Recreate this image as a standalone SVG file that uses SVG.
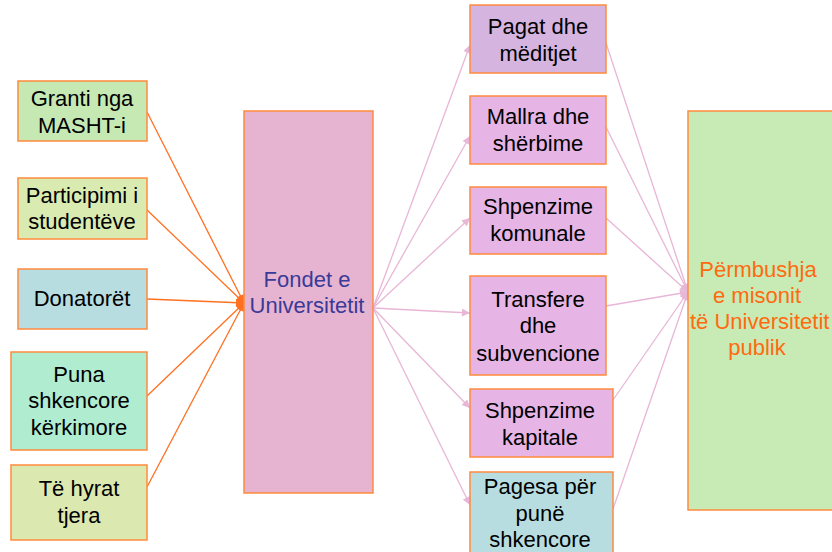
<svg xmlns="http://www.w3.org/2000/svg" width="832" height="552" viewBox="0 0 832 552">
<defs>
<style>
.box{stroke:#ff8a3d;stroke-width:1.5}
.t{font-family:"Liberation Sans",Arial,sans-serif;font-size:22px;fill:#000;text-anchor:middle}
.ct{fill:#3a3a98}
.rt{fill:#ff6a10}
.co{stroke:#ff7020;stroke-width:1.3;fill:none}
.cp{stroke:#e8b6d6;stroke-width:1.3;fill:none}
</style>
<marker id="ao" viewBox="0 0 10 10" refX="10" refY="5" markerWidth="10" markerHeight="8" markerUnits="userSpaceOnUse" orient="auto">
<path d="M0,0 L10,5 L0,10 z" fill="#ff7020"/>
</marker>
<marker id="ap" viewBox="0 0 10 10" refX="10" refY="5" markerWidth="9" markerHeight="8" markerUnits="userSpaceOnUse" orient="auto">
<path d="M0,0 L10,5 L0,10 z" fill="#e8b6d6"/>
</marker>
</defs>
<rect width="832" height="552" fill="#ffffff"/>
<g id="connectors">
<line class="co" x1="147" y1="112" x2="244" y2="303" marker-end="url(#ao)"/>
<line class="co" x1="147" y1="210" x2="244" y2="303" marker-end="url(#ao)"/>
<line class="co" x1="147" y1="299" x2="244" y2="303" marker-end="url(#ao)"/>
<line class="co" x1="147" y1="396" x2="244" y2="303" marker-end="url(#ao)"/>
<line class="co" x1="147" y1="487" x2="244" y2="303" marker-end="url(#ao)"/>
<line class="cp" x1="373" y1="308" x2="470" y2="45" marker-end="url(#ap)"/>
<line class="cp" x1="373" y1="308" x2="470" y2="136" marker-end="url(#ap)"/>
<line class="cp" x1="373" y1="308" x2="470" y2="218" marker-end="url(#ap)"/>
<line class="cp" x1="373" y1="308" x2="470" y2="313" marker-end="url(#ap)"/>
<line class="cp" x1="373" y1="308" x2="470" y2="408" marker-end="url(#ap)"/>
<line class="cp" x1="373" y1="308" x2="470" y2="505" marker-end="url(#ap)"/>
<line class="cp" x1="606" y1="43" x2="688" y2="292" marker-end="url(#ap)"/>
<line class="cp" x1="606" y1="127" x2="688" y2="292" marker-end="url(#ap)"/>
<line class="cp" x1="606" y1="218" x2="688" y2="292" marker-end="url(#ap)"/>
<line class="cp" x1="606" y1="306" x2="688" y2="292" marker-end="url(#ap)"/>
<line class="cp" x1="613" y1="400" x2="688" y2="292" marker-end="url(#ap)"/>
<line class="cp" x1="613" y1="509" x2="688" y2="292" marker-end="url(#ap)"/>
</g>
<g id="granti">
<rect class="box" x="18" y="81" width="129" height="60" fill="#c6e9b4"/>
<text class="t" x="82" y="106">Granti nga</text>
<text class="t" x="82" y="133">MASHT-i</text>
</g>
<g id="participimi">
<rect class="box" x="18" y="178" width="129" height="61" fill="#d9ebb0"/>
<text class="t" x="82" y="203">Participimi i</text>
<text class="t" x="82" y="229">studentëve</text>
</g>
<g id="donatoret">
<rect class="box" x="18" y="269" width="129" height="60" fill="#b8dde0"/>
<text class="t" x="82" y="306">Donatorët</text>
</g>
<g id="puna">
<rect class="box" x="11" y="352" width="136" height="98" fill="#b0ecd0"/>
<text class="t" x="79" y="382">Puna</text>
<text class="t" x="79" y="408">shkencore</text>
<text class="t" x="79" y="435">kërkimore</text>
</g>
<g id="hyrat">
<rect class="box" x="11" y="465" width="136" height="75" fill="#dbe9b0"/>
<text class="t" x="79" y="496">Të hyrat</text>
<text class="t" x="79" y="523">tjera</text>
</g>
<g id="fondet">
<rect class="box" x="244" y="111" width="129" height="382" fill="#e6b4d0"/>
<text class="t ct" x="307" y="287">Fondet e</text>
<text class="t ct" x="307" y="313">Universitetit</text>
</g>
<g id="pagat">
<rect class="box" x="470" y="5" width="136" height="68" fill="#d5b5e0"/>
<text class="t" x="538" y="34">Pagat dhe</text>
<text class="t" x="538" y="61">mëditjet</text>
</g>
<g id="mallra">
<rect class="box" x="470" y="96" width="136" height="68" fill="#e6b5e5"/>
<text class="t" x="538" y="124">Mallra dhe</text>
<text class="t" x="538" y="151">shërbime</text>
</g>
<g id="komunale">
<rect class="box" x="470" y="187" width="136" height="67" fill="#e6b5e5"/>
<text class="t" x="538" y="214">Shpenzime</text>
<text class="t" x="538" y="241">komunale</text>
</g>
<g id="transfere">
<rect class="box" x="470" y="276" width="136" height="99" fill="#e6b5e5"/>
<text class="t" x="538" y="307">Transfere</text>
<text class="t" x="538" y="333">dhe</text>
<text class="t" x="538" y="361">subvencione</text>
</g>
<g id="kapitale">
<rect class="box" x="470" y="389" width="143" height="68" fill="#e6b5e5"/>
<text class="t" x="540" y="418">Shpenzime</text>
<text class="t" x="540" y="445">kapitale</text>
</g>
<g id="pagesa">
<rect class="box" x="470" y="472" width="143" height="90" fill="#b8dde0"/>
<text class="t" x="540" y="494">Pagesa për</text>
<text class="t" x="540" y="521">punë</text>
<text class="t" x="540" y="547">shkencore</text>
</g>
<g id="permbushja">
<rect class="box" x="688" y="111" width="160" height="399" fill="#c8eab4"/>
<text class="t rt" x="758" y="277">Përmbushja</text>
<text class="t rt" x="757" y="303">e misonit</text>
<text class="t rt" x="690" y="329" style="text-anchor:start">të Universitetit</text>
<text class="t rt" x="757" y="355">publik</text>
</g>
</svg>
